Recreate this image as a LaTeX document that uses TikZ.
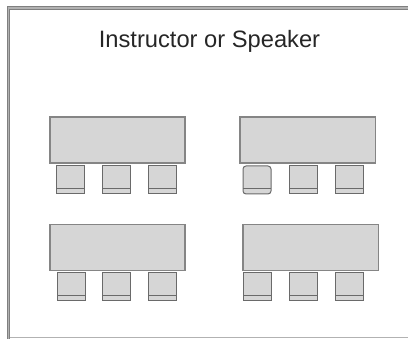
\documentclass[tikz,border=0pt]{standalone}
\usepackage{fontspec}
\setmainfont{Liberation Sans}
\definecolor{fillg}{HTML}{D6D6D6}
\definecolor{edgeg}{HTML}{858585}
\definecolor{chairedge}{HTML}{6A6A6A}
\tikzset{
  tablebox/.style={draw=edgeg,fill=fillg,line width=1.1pt},
  chairbox/.style={draw=chairedge,fill=fillg,line width=1pt},
  framing/.style={draw=black!50,line width=3.4pt,line join=miter}
}
\begin{document}
\begin{tikzpicture}[x=1pt,y=-1pt]
\useasboundingbox (0,0) rectangle (408,339);
\draw[framing] (8.2,339) -- (8.2,8) -- (408,8);
\draw[draw=black!30,line width=1.2pt] (8.2,339) -- (8.2,8) -- (408,8);
\draw[draw=black!30,line width=1.1pt] (10,337.8) -- (408,337.8);
\node[anchor=base,font=\fontsize{23.7}{26}\selectfont,text=black!85,inner sep=0pt] (title) at (209.5,47.5) {Instructor or Speaker};
% tables
\draw[tablebox] (50,117) rectangle (185,163);
\draw[tablebox] (240,117) rectangle (375.5,163);
\draw[tablebox] (50,224.5) rectangle (185,270.5);
\draw[tablebox] (243,224.5) rectangle (378.5,270.5);
% chairs
\foreach \x/\y in {56/166,102/166,148/166,289/166,335/166,57.5/273,102/273,148/273,243/273,289/273,335/273}{
  \draw[chairbox] (\x,\y) rectangle ++(28,28);
  \draw[chairbox] (\x,\y+22.5) -- ++(28,0);
}
\draw[chairbox,rounded corners=3pt] (243,166) rectangle ++(28,28);
\draw[chairbox] (243,188.5) -- ++(28,0);
\end{tikzpicture}
\end{document}
